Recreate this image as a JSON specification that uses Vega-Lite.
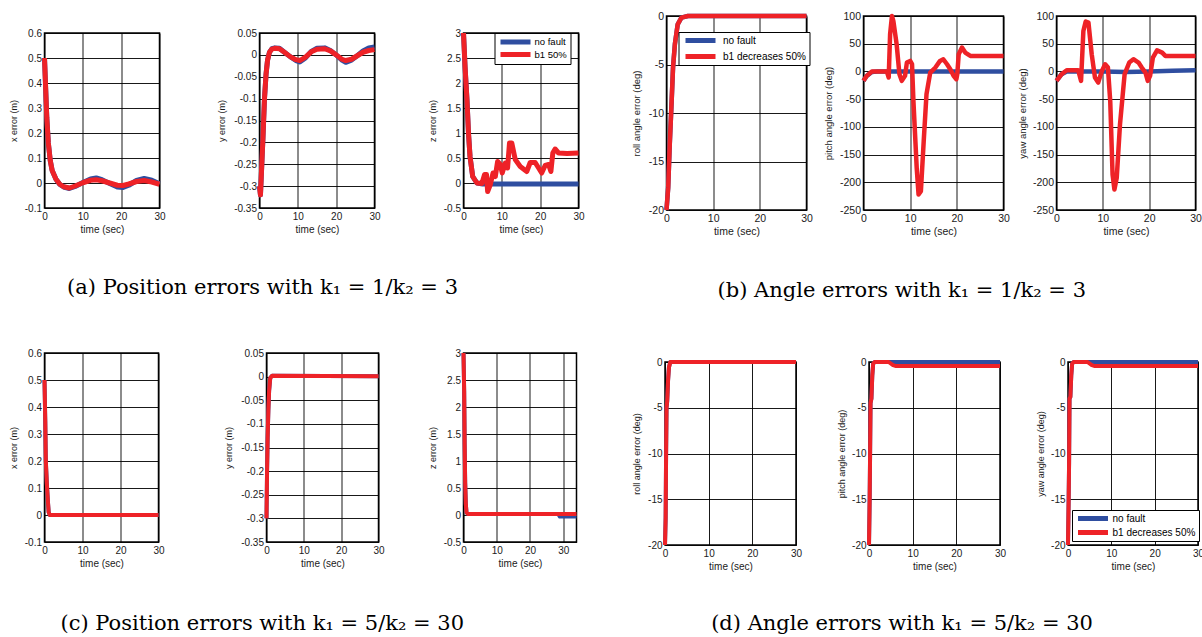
{
"$schema": "https://vega.github.io/schema/vega-lite/v6.json",
"background": "white",
"padding": {"left": 7.5, "top": 10, "right": 0, "bottom": 0},
"datasets": {"d": [
{"p":"ax","s":"no fault","t":0,"v":0.5},{"p":"ax","s":"no fault","t":0.3,"v":0.38},{"p":"ax","s":"no fault","t":0.6,"v":0.26},{"p":"ax","s":"no fault","t":1,"v":0.16},{"p":"ax","s":"no fault","t":1.5,"v":0.09},{"p":"ax","s":"no fault","t":2,"v":0.05},{"p":"ax","s":"no fault","t":3,"v":0.015},{"p":"ax","s":"no fault","t":4,"v":-0.006},{"p":"ax","s":"no fault","t":5,"v":-0.016},{"p":"ax","s":"no fault","t":6.5,"v":-0.022},{"p":"ax","s":"no fault","t":8,"v":-0.014},{"p":"ax","s":"no fault","t":10,"v":0.002},{"p":"ax","s":"no fault","t":12,"v":0.016},{"p":"ax","s":"no fault","t":13.5,"v":0.02},{"p":"ax","s":"no fault","t":15,"v":0.013},{"p":"ax","s":"no fault","t":17,"v":-0.002},{"p":"ax","s":"no fault","t":19,"v":-0.016},{"p":"ax","s":"no fault","t":20.5,"v":-0.018},{"p":"ax","s":"no fault","t":22,"v":-0.009},{"p":"ax","s":"no fault","t":24,"v":0.01},{"p":"ax","s":"no fault","t":26,"v":0.018},{"p":"ax","s":"no fault","t":28,"v":0.011},{"p":"ax","s":"no fault","t":30,"v":-0.003},
{"p":"ax","s":"b1 50%","t":0,"v":0.5},{"p":"ax","s":"b1 50%","t":0.3,"v":0.38},{"p":"ax","s":"b1 50%","t":0.6,"v":0.26},{"p":"ax","s":"b1 50%","t":1,"v":0.16},{"p":"ax","s":"b1 50%","t":1.5,"v":0.09},{"p":"ax","s":"b1 50%","t":2,"v":0.05},{"p":"ax","s":"b1 50%","t":3,"v":0.015},{"p":"ax","s":"b1 50%","t":4,"v":-0.005},{"p":"ax","s":"b1 50%","t":5,"v":-0.015},{"p":"ax","s":"b1 50%","t":6.5,"v":-0.02},{"p":"ax","s":"b1 50%","t":8,"v":-0.012},{"p":"ax","s":"b1 50%","t":10,"v":0.001},{"p":"ax","s":"b1 50%","t":12,"v":0.011},{"p":"ax","s":"b1 50%","t":13.5,"v":0.013},{"p":"ax","s":"b1 50%","t":15,"v":0.009},{"p":"ax","s":"b1 50%","t":17,"v":0},{"p":"ax","s":"b1 50%","t":19,"v":-0.009},{"p":"ax","s":"b1 50%","t":20.5,"v":-0.01},{"p":"ax","s":"b1 50%","t":22,"v":-0.004},{"p":"ax","s":"b1 50%","t":24,"v":0.006},{"p":"ax","s":"b1 50%","t":26,"v":0.01},{"p":"ax","s":"b1 50%","t":28,"v":0.004},{"p":"ax","s":"b1 50%","t":30,"v":-0.005},
{"p":"ay","s":"no fault","t":0,"v":-0.3},{"p":"ay","s":"no fault","t":0.25,"v":-0.32},{"p":"ay","s":"no fault","t":0.6,"v":-0.25},{"p":"ay","s":"no fault","t":0.9,"v":-0.19},{"p":"ay","s":"no fault","t":1.3,"v":-0.1},{"p":"ay","s":"no fault","t":1.7,"v":-0.045},{"p":"ay","s":"no fault","t":2.1,"v":-0.012},{"p":"ay","s":"no fault","t":2.6,"v":0.006},{"p":"ay","s":"no fault","t":3.2,"v":0.014},{"p":"ay","s":"no fault","t":4,"v":0.016},{"p":"ay","s":"no fault","t":5.2,"v":0.015},{"p":"ay","s":"no fault","t":6.5,"v":0.006},{"p":"ay","s":"no fault","t":8,"v":-0.004},{"p":"ay","s":"no fault","t":9.5,"v":-0.013},{"p":"ay","s":"no fault","t":10.5,"v":-0.016},{"p":"ay","s":"no fault","t":12,"v":-0.007},{"p":"ay","s":"no fault","t":13.5,"v":0.008},{"p":"ay","s":"no fault","t":15,"v":0.015},{"p":"ay","s":"no fault","t":17,"v":0.016},{"p":"ay","s":"no fault","t":18.5,"v":0.01},{"p":"ay","s":"no fault","t":20,"v":0},{"p":"ay","s":"no fault","t":21.5,"v":-0.012},{"p":"ay","s":"no fault","t":22.5,"v":-0.017},{"p":"ay","s":"no fault","t":24,"v":-0.012},{"p":"ay","s":"no fault","t":25.5,"v":-0.002},{"p":"ay","s":"no fault","t":27,"v":0.009},{"p":"ay","s":"no fault","t":28.5,"v":0.016},{"p":"ay","s":"no fault","t":30,"v":0.018},
{"p":"ay","s":"b1 50%","t":0,"v":-0.3},{"p":"ay","s":"b1 50%","t":0.25,"v":-0.32},{"p":"ay","s":"b1 50%","t":0.6,"v":-0.25},{"p":"ay","s":"b1 50%","t":0.9,"v":-0.19},{"p":"ay","s":"b1 50%","t":1.3,"v":-0.1},{"p":"ay","s":"b1 50%","t":1.7,"v":-0.045},{"p":"ay","s":"b1 50%","t":2.1,"v":-0.012},{"p":"ay","s":"b1 50%","t":2.6,"v":0.006},{"p":"ay","s":"b1 50%","t":3.2,"v":0.013},{"p":"ay","s":"b1 50%","t":4,"v":0.015},{"p":"ay","s":"b1 50%","t":5.2,"v":0.014},{"p":"ay","s":"b1 50%","t":6.5,"v":0.006},{"p":"ay","s":"b1 50%","t":8,"v":-0.004},{"p":"ay","s":"b1 50%","t":9.5,"v":-0.011},{"p":"ay","s":"b1 50%","t":10.5,"v":-0.013},{"p":"ay","s":"b1 50%","t":12,"v":-0.005},{"p":"ay","s":"b1 50%","t":13.5,"v":0.007},{"p":"ay","s":"b1 50%","t":15,"v":0.013},{"p":"ay","s":"b1 50%","t":17,"v":0.014},{"p":"ay","s":"b1 50%","t":18.5,"v":0.009},{"p":"ay","s":"b1 50%","t":20,"v":0},{"p":"ay","s":"b1 50%","t":21.5,"v":-0.01},{"p":"ay","s":"b1 50%","t":22.5,"v":-0.013},{"p":"ay","s":"b1 50%","t":24,"v":-0.01},{"p":"ay","s":"b1 50%","t":25.5,"v":-0.002},{"p":"ay","s":"b1 50%","t":27,"v":0.006},{"p":"ay","s":"b1 50%","t":28.5,"v":0.01},{"p":"ay","s":"b1 50%","t":30,"v":0.012},
{"p":"az","s":"no fault","t":0,"v":3},{"p":"az","s":"no fault","t":0.4,"v":2.33},{"p":"az","s":"no fault","t":0.9,"v":1.67},{"p":"az","s":"no fault","t":1.3,"v":1},{"p":"az","s":"no fault","t":1.7,"v":0.53},{"p":"az","s":"no fault","t":2.4,"v":0.13},{"p":"az","s":"no fault","t":3.5,"v":0},{"p":"az","s":"no fault","t":5,"v":-0.02},{"p":"az","s":"no fault","t":30,"v":-0.02},
{"p":"az","s":"b1 50%","t":0,"v":3},{"p":"az","s":"b1 50%","t":0.4,"v":2.33},{"p":"az","s":"b1 50%","t":0.9,"v":1.67},{"p":"az","s":"b1 50%","t":1.3,"v":1},{"p":"az","s":"b1 50%","t":1.7,"v":0.53},{"p":"az","s":"b1 50%","t":2.4,"v":0.13},{"p":"az","s":"b1 50%","t":3.5,"v":0},{"p":"az","s":"b1 50%","t":4.8,"v":-0.01},{"p":"az","s":"b1 50%","t":5.5,"v":0.17},{"p":"az","s":"b1 50%","t":6,"v":0.17},{"p":"az","s":"b1 50%","t":6.3,"v":-0.17},{"p":"az","s":"b1 50%","t":7,"v":-0.03},{"p":"az","s":"b1 50%","t":7.7,"v":0.2},{"p":"az","s":"b1 50%","t":8.3,"v":0.13},{"p":"az","s":"b1 50%","t":8.9,"v":0.43},{"p":"az","s":"b1 50%","t":9.6,"v":0.37},{"p":"az","s":"b1 50%","t":10.1,"v":0.2},{"p":"az","s":"b1 50%","t":10.9,"v":0.4},{"p":"az","s":"b1 50%","t":11.5,"v":0.3},{"p":"az","s":"b1 50%","t":12,"v":0.8},{"p":"az","s":"b1 50%","t":12.6,"v":0.8},{"p":"az","s":"b1 50%","t":13.5,"v":0.47},{"p":"az","s":"b1 50%","t":14.8,"v":0.33},{"p":"az","s":"b1 50%","t":16.5,"v":0.23},{"p":"az","s":"b1 50%","t":17.4,"v":0.41},{"p":"az","s":"b1 50%","t":18.7,"v":0.41},{"p":"az","s":"b1 50%","t":19.6,"v":0.3},{"p":"az","s":"b1 50%","t":20.4,"v":0.2},{"p":"az","s":"b1 50%","t":21.3,"v":0.35},{"p":"az","s":"b1 50%","t":22.2,"v":0.37},{"p":"az","s":"b1 50%","t":22.8,"v":0.23},{"p":"az","s":"b1 50%","t":23.3,"v":0.6},{"p":"az","s":"b1 50%","t":23.9,"v":0.68},{"p":"az","s":"b1 50%","t":24.8,"v":0.6},{"p":"az","s":"b1 50%","t":27,"v":0.59},{"p":"az","s":"b1 50%","t":30,"v":0.6},
{"p":"br","s":"no fault","t":0,"v":-20},{"p":"br","s":"no fault","t":0.36,"v":-17.7},{"p":"br","s":"no fault","t":0.7,"v":-13.2},{"p":"br","s":"no fault","t":1.1,"v":-8.8},{"p":"br","s":"no fault","t":1.4,"v":-5.3},{"p":"br","s":"no fault","t":1.8,"v":-2.9},{"p":"br","s":"no fault","t":2.4,"v":-0.86},{"p":"br","s":"no fault","t":3.2,"v":-0.17},{"p":"br","s":"no fault","t":4.6,"v":0},{"p":"br","s":"no fault","t":30,"v":0},
{"p":"br","s":"b1 decreases 50%","t":0,"v":-20},{"p":"br","s":"b1 decreases 50%","t":0.36,"v":-17.7},{"p":"br","s":"b1 decreases 50%","t":0.7,"v":-13.2},{"p":"br","s":"b1 decreases 50%","t":1.1,"v":-8.8},{"p":"br","s":"b1 decreases 50%","t":1.4,"v":-5.3},{"p":"br","s":"b1 decreases 50%","t":1.8,"v":-2.9},{"p":"br","s":"b1 decreases 50%","t":2.4,"v":-0.86},{"p":"br","s":"b1 decreases 50%","t":3.2,"v":-0.17},{"p":"br","s":"b1 decreases 50%","t":4.6,"v":0},{"p":"br","s":"b1 decreases 50%","t":30,"v":0},
{"p":"bp","s":"no fault","t":0,"v":-17},{"p":"bp","s":"no fault","t":0.7,"v":-8},{"p":"bp","s":"no fault","t":1.8,"v":-1},{"p":"bp","s":"no fault","t":3,"v":0},{"p":"bp","s":"no fault","t":30,"v":0},
{"p":"bp","s":"b1 decreases 50%","t":0,"v":-17},{"p":"bp","s":"b1 decreases 50%","t":0.7,"v":-8},{"p":"bp","s":"b1 decreases 50%","t":1.8,"v":0},{"p":"bp","s":"b1 decreases 50%","t":5,"v":0},{"p":"bp","s":"b1 decreases 50%","t":5.4,"v":-11},{"p":"bp","s":"b1 decreases 50%","t":5.7,"v":67},{"p":"bp","s":"b1 decreases 50%","t":6.1,"v":100},{"p":"bp","s":"b1 decreases 50%","t":6.4,"v":91},{"p":"bp","s":"b1 decreases 50%","t":7.1,"v":49},{"p":"bp","s":"b1 decreases 50%","t":7.7,"v":-5},{"p":"bp","s":"b1 decreases 50%","t":8.2,"v":-17},{"p":"bp","s":"b1 decreases 50%","t":8.9,"v":-8},{"p":"bp","s":"b1 decreases 50%","t":9.3,"v":16},{"p":"bp","s":"b1 decreases 50%","t":10,"v":19},{"p":"bp","s":"b1 decreases 50%","t":10.4,"v":13},{"p":"bp","s":"b1 decreases 50%","t":10.7,"v":-54},{"p":"bp","s":"b1 decreases 50%","t":11.4,"v":-174},{"p":"bp","s":"b1 decreases 50%","t":11.8,"v":-222},{"p":"bp","s":"b1 decreases 50%","t":12.3,"v":-216},{"p":"bp","s":"b1 decreases 50%","t":12.9,"v":-126},{"p":"bp","s":"b1 decreases 50%","t":13.5,"v":-41},{"p":"bp","s":"b1 decreases 50%","t":14.3,"v":-2},{"p":"bp","s":"b1 decreases 50%","t":15.4,"v":7},{"p":"bp","s":"b1 decreases 50%","t":16.4,"v":19},{"p":"bp","s":"b1 decreases 50%","t":17.1,"v":22},{"p":"bp","s":"b1 decreases 50%","t":17.9,"v":13},{"p":"bp","s":"b1 decreases 50%","t":18.6,"v":4},{"p":"bp","s":"b1 decreases 50%","t":19.3,"v":-8},{"p":"bp","s":"b1 decreases 50%","t":19.9,"v":-14},{"p":"bp","s":"b1 decreases 50%","t":20.1,"v":-5},{"p":"bp","s":"b1 decreases 50%","t":20.4,"v":31},{"p":"bp","s":"b1 decreases 50%","t":21.1,"v":43},{"p":"bp","s":"b1 decreases 50%","t":21.8,"v":34},{"p":"bp","s":"b1 decreases 50%","t":22.9,"v":28},{"p":"bp","s":"b1 decreases 50%","t":30,"v":28},
{"p":"by","s":"no fault","t":0,"v":-17},{"p":"by","s":"no fault","t":1.1,"v":-5},{"p":"by","s":"no fault","t":2.2,"v":0},{"p":"by","s":"no fault","t":10,"v":0},{"p":"by","s":"no fault","t":15,"v":-1},{"p":"by","s":"no fault","t":20,"v":0},{"p":"by","s":"no fault","t":25,"v":1},{"p":"by","s":"no fault","t":30,"v":2},
{"p":"by","s":"b1 decreases 50%","t":0,"v":-17},{"p":"by","s":"b1 decreases 50%","t":1.1,"v":-5},{"p":"by","s":"b1 decreases 50%","t":2.2,"v":2},{"p":"by","s":"b1 decreases 50%","t":4.7,"v":2},{"p":"by","s":"b1 decreases 50%","t":5.3,"v":-17},{"p":"by","s":"b1 decreases 50%","t":5.8,"v":73},{"p":"by","s":"b1 decreases 50%","t":6.3,"v":90},{"p":"by","s":"b1 decreases 50%","t":6.9,"v":88},{"p":"by","s":"b1 decreases 50%","t":7.6,"v":31},{"p":"by","s":"b1 decreases 50%","t":8.3,"v":-11},{"p":"by","s":"b1 decreases 50%","t":9,"v":-20},{"p":"by","s":"b1 decreases 50%","t":9.8,"v":1},{"p":"by","s":"b1 decreases 50%","t":10.5,"v":13},{"p":"by","s":"b1 decreases 50%","t":11.1,"v":7},{"p":"by","s":"b1 decreases 50%","t":11.6,"v":-54},{"p":"by","s":"b1 decreases 50%","t":12.1,"v":-186},{"p":"by","s":"b1 decreases 50%","t":12.5,"v":-213},{"p":"by","s":"b1 decreases 50%","t":13,"v":-192},{"p":"by","s":"b1 decreases 50%","t":13.7,"v":-96},{"p":"by","s":"b1 decreases 50%","t":14.7,"v":-5},{"p":"by","s":"b1 decreases 50%","t":15.7,"v":16},{"p":"by","s":"b1 decreases 50%","t":16.6,"v":22},{"p":"by","s":"b1 decreases 50%","t":17.7,"v":16},{"p":"by","s":"b1 decreases 50%","t":18.4,"v":7},{"p":"by","s":"b1 decreases 50%","t":19.2,"v":-2},{"p":"by","s":"b1 decreases 50%","t":19.7,"v":-17},{"p":"by","s":"b1 decreases 50%","t":20.2,"v":-8},{"p":"by","s":"b1 decreases 50%","t":20.8,"v":25},{"p":"by","s":"b1 decreases 50%","t":21.7,"v":38},{"p":"by","s":"b1 decreases 50%","t":22.8,"v":34},{"p":"by","s":"b1 decreases 50%","t":23.5,"v":28},{"p":"by","s":"b1 decreases 50%","t":30,"v":28},
{"p":"cx","s":"no fault","t":0,"v":0.5},{"p":"cx","s":"no fault","t":0.2,"v":0.35},{"p":"cx","s":"no fault","t":0.35,"v":0.2},{"p":"cx","s":"no fault","t":0.6,"v":0.12},{"p":"cx","s":"no fault","t":0.9,"v":0.05},{"p":"cx","s":"no fault","t":1.1,"v":0.01},{"p":"cx","s":"no fault","t":1.4,"v":0},{"p":"cx","s":"no fault","t":30,"v":0},
{"p":"cx","s":"b1 50%","t":0,"v":0.5},{"p":"cx","s":"b1 50%","t":0.2,"v":0.35},{"p":"cx","s":"b1 50%","t":0.35,"v":0.2},{"p":"cx","s":"b1 50%","t":0.6,"v":0.12},{"p":"cx","s":"b1 50%","t":0.9,"v":0.05},{"p":"cx","s":"b1 50%","t":1.1,"v":0.01},{"p":"cx","s":"b1 50%","t":1.4,"v":0},{"p":"cx","s":"b1 50%","t":30,"v":0},
{"p":"cy","s":"no fault","t":0,"v":-0.3},{"p":"cy","s":"no fault","t":0.15,"v":-0.2},{"p":"cy","s":"no fault","t":0.3,"v":-0.13},{"p":"cy","s":"no fault","t":0.5,"v":-0.07},{"p":"cy","s":"no fault","t":0.7,"v":-0.03},{"p":"cy","s":"no fault","t":1,"v":-0.003},{"p":"cy","s":"no fault","t":1.5,"v":0.002},{"p":"cy","s":"no fault","t":30,"v":0.001},
{"p":"cy","s":"b1 50%","t":0,"v":-0.3},{"p":"cy","s":"b1 50%","t":0.15,"v":-0.2},{"p":"cy","s":"b1 50%","t":0.3,"v":-0.13},{"p":"cy","s":"b1 50%","t":0.5,"v":-0.07},{"p":"cy","s":"b1 50%","t":0.7,"v":-0.03},{"p":"cy","s":"b1 50%","t":1,"v":-0.003},{"p":"cy","s":"b1 50%","t":1.5,"v":0.002},{"p":"cy","s":"b1 50%","t":30,"v":0.001},
{"p":"cz","s":"no fault","t":0,"v":3},{"p":"cz","s":"no fault","t":0.2,"v":2.3},{"p":"cz","s":"no fault","t":0.35,"v":1.3},{"p":"cz","s":"no fault","t":0.5,"v":0.6},{"p":"cz","s":"no fault","t":0.7,"v":0.2},{"p":"cz","s":"no fault","t":0.9,"v":0.05},{"p":"cz","s":"no fault","t":1.3,"v":0.02},{"p":"cz","s":"no fault","t":28.5,"v":0.02},{"p":"cz","s":"no fault","t":29,"v":-0.03},{"p":"cz","s":"no fault","t":34,"v":-0.03},
{"p":"cz","s":"b1 50%","t":0,"v":3},{"p":"cz","s":"b1 50%","t":0.2,"v":2.3},{"p":"cz","s":"b1 50%","t":0.35,"v":1.3},{"p":"cz","s":"b1 50%","t":0.5,"v":0.6},{"p":"cz","s":"b1 50%","t":0.7,"v":0.2},{"p":"cz","s":"b1 50%","t":0.9,"v":0.05},{"p":"cz","s":"b1 50%","t":1.3,"v":0.02},{"p":"cz","s":"b1 50%","t":34,"v":0.02},
{"p":"dr","s":"no fault","t":0,"v":-20},{"p":"dr","s":"no fault","t":0.15,"v":-17},{"p":"dr","s":"no fault","t":0.25,"v":-10},{"p":"dr","s":"no fault","t":0.35,"v":-5},{"p":"dr","s":"no fault","t":0.5,"v":-4.3},{"p":"dr","s":"no fault","t":0.7,"v":-2},{"p":"dr","s":"no fault","t":0.9,"v":-0.6},{"p":"dr","s":"no fault","t":1.2,"v":0},{"p":"dr","s":"no fault","t":30,"v":0},
{"p":"dr","s":"b1 decreases 50%","t":0,"v":-20},{"p":"dr","s":"b1 decreases 50%","t":0.15,"v":-17},{"p":"dr","s":"b1 decreases 50%","t":0.25,"v":-10},{"p":"dr","s":"b1 decreases 50%","t":0.35,"v":-5},{"p":"dr","s":"b1 decreases 50%","t":0.5,"v":-4.3},{"p":"dr","s":"b1 decreases 50%","t":0.7,"v":-2},{"p":"dr","s":"b1 decreases 50%","t":0.9,"v":-0.6},{"p":"dr","s":"b1 decreases 50%","t":1.2,"v":0},{"p":"dr","s":"b1 decreases 50%","t":30,"v":0},
{"p":"dp","s":"no fault","t":0,"v":-20},{"p":"dp","s":"no fault","t":0.15,"v":-15},{"p":"dp","s":"no fault","t":0.25,"v":-10},{"p":"dp","s":"no fault","t":0.35,"v":-4.5},{"p":"dp","s":"no fault","t":0.55,"v":-4},{"p":"dp","s":"no fault","t":0.75,"v":-1.5},{"p":"dp","s":"no fault","t":0.95,"v":-0.2},{"p":"dp","s":"no fault","t":1.3,"v":0},{"p":"dp","s":"no fault","t":30,"v":0},
{"p":"dp","s":"b1 decreases 50%","t":0,"v":-20},{"p":"dp","s":"b1 decreases 50%","t":0.15,"v":-15},{"p":"dp","s":"b1 decreases 50%","t":0.25,"v":-10},{"p":"dp","s":"b1 decreases 50%","t":0.35,"v":-4.5},{"p":"dp","s":"b1 decreases 50%","t":0.55,"v":-4},{"p":"dp","s":"b1 decreases 50%","t":0.75,"v":-1.5},{"p":"dp","s":"b1 decreases 50%","t":0.95,"v":-0.2},{"p":"dp","s":"b1 decreases 50%","t":1.3,"v":0},{"p":"dp","s":"b1 decreases 50%","t":4.5,"v":0},{"p":"dp","s":"b1 decreases 50%","t":5.5,"v":-0.35},{"p":"dp","s":"b1 decreases 50%","t":6.2,"v":-0.45},{"p":"dp","s":"b1 decreases 50%","t":30,"v":-0.45},
{"p":"dy","s":"no fault","t":0,"v":-20},{"p":"dy","s":"no fault","t":0.15,"v":-15},{"p":"dy","s":"no fault","t":0.25,"v":-11},{"p":"dy","s":"no fault","t":0.35,"v":-4},{"p":"dy","s":"no fault","t":0.55,"v":-3.8},{"p":"dy","s":"no fault","t":0.75,"v":-1.5},{"p":"dy","s":"no fault","t":0.95,"v":-0.2},{"p":"dy","s":"no fault","t":1.3,"v":0},{"p":"dy","s":"no fault","t":30,"v":0},
{"p":"dy","s":"b1 decreases 50%","t":0,"v":-20},{"p":"dy","s":"b1 decreases 50%","t":0.15,"v":-15},{"p":"dy","s":"b1 decreases 50%","t":0.25,"v":-11},{"p":"dy","s":"b1 decreases 50%","t":0.35,"v":-4},{"p":"dy","s":"b1 decreases 50%","t":0.55,"v":-3.8},{"p":"dy","s":"b1 decreases 50%","t":0.75,"v":-1.5},{"p":"dy","s":"b1 decreases 50%","t":0.95,"v":-0.2},{"p":"dy","s":"b1 decreases 50%","t":1.3,"v":0},{"p":"dy","s":"b1 decreases 50%","t":4.5,"v":0},{"p":"dy","s":"b1 decreases 50%","t":5.5,"v":-0.35},{"p":"dy","s":"b1 decreases 50%","t":6.2,"v":-0.45},{"p":"dy","s":"b1 decreases 50%","t":30,"v":-0.45}
]},
"spacing": 46,
"resolve": {"scale": {"color": "independent"}},
"vconcat": [
{"spacing": 45, "resolve": {"scale": {"color": "independent"}}, "hconcat": [
 {"spacing": 10, "resolve": {"scale": {"color": "independent"}}, "vconcat": [
  {"width": 1, "height": 1, "view": {"stroke": null}, "data": {"values": []}, "mark": "point"},
  {"title": {"text": "(a)  Position errors with k₁ = 1/k₂ = 3", "orient": "bottom", "anchor": "middle", "font": "DejaVu Serif", "fontSize": 21, "offset": 42, "dx": -34},
   "spacing": 49, "resolve": {"scale": {"color": "independent"}}, "hconcat": [
   {"width": 115, "height": 175,
    "data": {"name": "d"}, "transform": [{"filter": "datum.p === 'ax'"}],
    "mark": {"type": "line", "strokeWidth": 5, "clip": false, "strokeJoin": "round"},
    "encoding": {
     "x": {"field": "t", "type": "quantitative", "scale": {"domain": [0, 30], "nice": false, "zero": false}, "axis": {"title": "time (sec)", "values": [0, 10, 20, 30]}},
     "y": {"field": "v", "type": "quantitative", "scale": {"domain": [-0.1, 0.6], "nice": false, "zero": false}, "axis": {"title": "x error (m)", "values": [-0.1, 0, 0.1, 0.2, 0.3, 0.4, 0.5, 0.6], "minExtent": 24.5, "maxExtent": 24.5}},
     "color": {"field": "s", "type": "nominal", "scale": {"domain": ["no fault", "b1 50%"], "range": ["#2f4ea0", "#ee2227"]}, "legend": null}}},
   {"spacing": 45, "resolve": {"scale": {"color": "independent"}}, "hconcat": [
    {"width": 115, "height": 175,
     "data": {"name": "d"}, "transform": [{"filter": "datum.p === 'ay'"}],
     "mark": {"type": "line", "strokeWidth": 5, "clip": false, "strokeJoin": "round"},
     "encoding": {
      "x": {"field": "t", "type": "quantitative", "scale": {"domain": [0, 30], "nice": false, "zero": false}, "axis": {"title": "time (sec)", "values": [0, 10, 20, 30]}},
      "y": {"field": "v", "type": "quantitative", "scale": {"domain": [-0.35, 0.05], "nice": false, "zero": false}, "axis": {"title": "y error (m)", "values": [-0.35, -0.3, -0.25, -0.2, -0.15, -0.1, -0.05, 0, 0.05], "minExtent": 31.5, "maxExtent": 31.5}},
      "color": {"field": "s", "type": "nominal", "scale": {"domain": ["no fault", "b1 50%"], "range": ["#2f4ea0", "#ee2227"]}, "legend": null}}},
    {"width": 115, "height": 175,
     "data": {"name": "d"}, "transform": [{"filter": "datum.p === 'az'"}],
     "mark": {"type": "line", "strokeWidth": 5, "clip": false, "strokeJoin": "round"},
     "encoding": {
      "x": {"field": "t", "type": "quantitative", "scale": {"domain": [0, 30], "nice": false, "zero": false}, "axis": {"title": "time (sec)", "values": [0, 10, 20, 30]}},
      "y": {"field": "v", "type": "quantitative", "scale": {"domain": [-0.5, 3], "nice": false, "zero": false}, "axis": {"title": "z error (m)", "values": [-0.5, 0, 0.5, 1, 1.5, 2, 2.5, 3], "minExtent": 24.5, "maxExtent": 24.5}},
      "color": {"field": "s", "type": "nominal", "scale": {"domain": ["no fault", "b1 50%"], "range": ["#2f4ea0", "#ee2227"]},
       "legend": {"title": null, "orient": "none", "legendX": 31, "legendY": 0, "symbolType": "M-1,0H9", "symbolSize": 36, "symbolStrokeWidth": 5, "symbolOffset": 0, "labelOffset": 25.5, "rowPadding": 1.5, "padding": 3.5, "clipHeight": 11, "labelFontSize": 9.5}}}}
   ]}
  ]}
 ]},
 {"title": {"text": "(b)  Angle errors with k₁ = 1/k₂ = 3", "orient": "bottom", "anchor": "middle", "font": "DejaVu Serif", "fontSize": 21, "offset": 42, "dx": -14.5},
  "spacing": 9, "resolve": {"scale": {"color": "independent"}}, "hconcat": [
  {"width": 140, "height": 194,
   "data": {"name": "d"}, "transform": [{"filter": "datum.p === 'br'"}],
   "mark": {"type": "line", "strokeWidth": 4.5, "clip": false, "strokeJoin": "round"},
   "encoding": {
    "x": {"field": "t", "type": "quantitative", "scale": {"domain": [0, 30], "nice": false, "zero": false}, "axis": {"title": "time (sec)", "values": [0, 10, 20, 30], "labelFontSize": 10.5, "titleFontSize": 10.5}},
    "y": {"field": "v", "type": "quantitative", "scale": {"domain": [-20, 0], "nice": false, "zero": false}, "axis": {"title": "roll angle error (deg)", "values": [-20, -15, -10, -5, 0], "minExtent": 23.25, "maxExtent": 23.25, "labelFontSize": 10.5, "titleFontSize": 9.5}},
    "color": {"field": "s", "type": "nominal", "scale": {"domain": ["no fault", "b1 decreases 50%"], "range": ["#2f4ea0", "#ee2227"]},
     "legend": {"title": null, "orient": "none", "legendX": 12, "legendY": 16, "symbolType": "M-1,0H9", "symbolSize": 36, "symbolStrokeWidth": 5, "symbolOffset": 1.5, "labelOffset": 29, "rowPadding": 5, "padding": 3, "clipHeight": 11, "labelFontSize": 10}}}},
  {"spacing": 6, "resolve": {"scale": {"color": "independent"}}, "hconcat": [
   {"width": 140, "height": 194,
    "data": {"name": "d"}, "transform": [{"filter": "datum.p === 'bp'"}],
    "mark": {"type": "line", "strokeWidth": 4.5, "clip": false, "strokeJoin": "round"},
    "encoding": {
     "x": {"field": "t", "type": "quantitative", "scale": {"domain": [0, 30], "nice": false, "zero": false}, "axis": {"title": "time (sec)", "values": [0, 10, 20, 30], "labelFontSize": 10.5, "titleFontSize": 10.5}},
     "y": {"field": "v", "type": "quantitative", "scale": {"domain": [-250, 100], "nice": false, "zero": false}, "axis": {"title": "pitch angle error (deg)", "values": [-250, -200, -150, -100, -50, 0, 50, 100], "minExtent": 28.25, "maxExtent": 28.25, "labelFontSize": 10.5, "titleFontSize": 9.5}},
     "color": {"field": "s", "type": "nominal", "scale": {"domain": ["no fault", "b1 decreases 50%"], "range": ["#2f4ea0", "#ee2227"]}, "legend": null}}},
   {"width": 139, "height": 194,
    "data": {"name": "d"}, "transform": [{"filter": "datum.p === 'by'"}],
    "mark": {"type": "line", "strokeWidth": 4.5, "clip": false, "strokeJoin": "round"},
    "encoding": {
     "x": {"field": "t", "type": "quantitative", "scale": {"domain": [0, 30], "nice": false, "zero": false}, "axis": {"title": "time (sec)", "values": [0, 10, 20, 30], "labelFontSize": 10.5, "titleFontSize": 10.5}},
     "y": {"field": "v", "type": "quantitative", "scale": {"domain": [-250, 100], "nice": false, "zero": false}, "axis": {"title": "yaw angle error (deg)", "values": [-250, -200, -150, -100, -50, 0, 50, 100], "minExtent": 27.25, "maxExtent": 27.25, "labelFontSize": 10.5, "titleFontSize": 9.5}},
     "color": {"field": "s", "type": "nominal", "scale": {"domain": ["no fault", "b1 decreases 50%"], "range": ["#2f4ea0", "#ee2227"]}, "legend": null}}}
  ]}
 ]}
]},
{"spacing": 51.5, "resolve": {"scale": {"color": "independent"}}, "hconcat": [
 {"title": {"text": "(c)  Position errors with k₁ = 5/k₂ = 30", "orient": "bottom", "anchor": "middle", "font": "DejaVu Serif", "fontSize": 21, "offset": 44, "dx": -31.5},
  "spacing": 57, "resolve": {"scale": {"color": "independent"}}, "hconcat": [
  {"width": 114, "height": 189,
   "data": {"name": "d"}, "transform": [{"filter": "datum.p === 'cx'"}],
   "mark": {"type": "line", "strokeWidth": 4, "clip": false, "strokeJoin": "round"},
   "encoding": {
    "x": {"field": "t", "type": "quantitative", "scale": {"domain": [0, 30], "nice": false, "zero": false}, "axis": {"title": "time (sec)", "values": [0, 10, 20, 30]}},
    "y": {"field": "v", "type": "quantitative", "scale": {"domain": [-0.1, 0.6], "nice": false, "zero": false}, "axis": {"title": "x error (m)", "values": [-0.1, 0, 0.1, 0.2, 0.3, 0.4, 0.5, 0.6], "minExtent": 24.5, "maxExtent": 24.5}},
    "color": {"field": "s", "type": "nominal", "scale": {"domain": ["no fault", "b1 50%"], "range": ["#2f4ea0", "#ee2227"]}, "legend": null}}},
  {"spacing": 41, "resolve": {"scale": {"color": "independent"}}, "hconcat": [
   {"width": 112, "height": 189,
    "data": {"name": "d"}, "transform": [{"filter": "datum.p === 'cy'"}],
    "mark": {"type": "line", "strokeWidth": 4, "clip": false, "strokeJoin": "round"},
    "encoding": {
     "x": {"field": "t", "type": "quantitative", "scale": {"domain": [0, 30], "nice": false, "zero": false}, "axis": {"title": "time (sec)", "values": [0, 10, 20, 30]}},
     "y": {"field": "v", "type": "quantitative", "scale": {"domain": [-0.35, 0.05], "nice": false, "zero": false}, "axis": {"title": "y error (m)", "values": [-0.35, -0.3, -0.25, -0.2, -0.15, -0.1, -0.05, 0, 0.05], "minExtent": 31.5, "maxExtent": 31.5}},
     "color": {"field": "s", "type": "nominal", "scale": {"domain": ["no fault", "b1 50%"], "range": ["#2f4ea0", "#ee2227"]}, "legend": null}}},
   {"width": 113, "height": 189,
    "data": {"name": "d"}, "transform": [{"filter": "datum.p === 'cz'"}],
    "mark": {"type": "line", "strokeWidth": 4, "clip": false, "strokeJoin": "round"},
    "encoding": {
     "x": {"field": "t", "type": "quantitative", "scale": {"domain": [0, 34], "nice": false, "zero": false}, "axis": {"title": "time (sec)", "values": [0, 10, 20, 30]}},
     "y": {"field": "v", "type": "quantitative", "scale": {"domain": [-0.5, 3], "nice": false, "zero": false}, "axis": {"title": "z error (m)", "values": [-0.5, 0, 0.5, 1, 1.5, 2, 2.5, 3], "minExtent": 24.5, "maxExtent": 24.5}},
     "color": {"field": "s", "type": "nominal", "scale": {"domain": ["no fault", "b1 50%"], "range": ["#2f4ea0", "#ee2227"]}, "legend": null}}}
  ]}
 ]},
 {"spacing": 2, "resolve": {"scale": {"color": "independent"}}, "vconcat": [
  {"width": 1, "height": 1, "view": {"stroke": null}, "data": {"values": []}, "mark": "point"},
  {"title": {"text": "(d)  Angle errors with k₁ = 5/k₂ = 30", "orient": "bottom", "anchor": "middle", "font": "DejaVu Serif", "fontSize": 21, "offset": 41, "dx": -16},
   "spacing": 33, "resolve": {"scale": {"color": "independent"}}, "hconcat": [
   {"width": 131, "height": 183,
    "data": {"name": "d"}, "transform": [{"filter": "datum.p === 'dr'"}],
    "mark": {"type": "line", "strokeWidth": 4, "clip": false, "strokeJoin": "round"},
    "encoding": {
     "x": {"field": "t", "type": "quantitative", "scale": {"domain": [0, 30], "nice": false, "zero": false}, "axis": {"title": "time (sec)", "values": [0, 10, 20, 30]}},
     "y": {"field": "v", "type": "quantitative", "scale": {"domain": [-20, 0], "nice": false, "zero": false}, "axis": {"title": "roll angle error (deg)", "values": [-20, -15, -10, -5, 0], "minExtent": 21.5, "maxExtent": 21.5}},
     "color": {"field": "s", "type": "nominal", "scale": {"domain": ["no fault", "b1 decreases 50%"], "range": ["#2f4ea0", "#ee2227"]}, "legend": null}}},
   {"spacing": 28, "resolve": {"scale": {"color": "independent"}}, "hconcat": [
    {"width": 131, "height": 183,
     "data": {"name": "d"}, "transform": [{"filter": "datum.p === 'dp'"}],
     "mark": {"type": "line", "strokeWidth": 4, "clip": false, "strokeJoin": "round"},
     "encoding": {
      "x": {"field": "t", "type": "quantitative", "scale": {"domain": [0, 30], "nice": false, "zero": false}, "axis": {"title": "time (sec)", "values": [0, 10, 20, 30]}},
      "y": {"field": "v", "type": "quantitative", "scale": {"domain": [-20, 0], "nice": false, "zero": false}, "axis": {"title": "pitch angle error (deg)", "values": [-20, -15, -10, -5, 0], "minExtent": 20.5, "maxExtent": 20.5}},
      "color": {"field": "s", "type": "nominal", "scale": {"domain": ["no fault", "b1 decreases 50%"], "range": ["#2f4ea0", "#ee2227"]}, "legend": null}}},
    {"width": 130, "height": 183,
     "data": {"name": "d"}, "transform": [{"filter": "datum.p === 'dy'"}],
     "mark": {"type": "line", "strokeWidth": 4, "clip": false, "strokeJoin": "round"},
     "encoding": {
      "x": {"field": "t", "type": "quantitative", "scale": {"domain": [0, 30], "nice": false, "zero": false}, "axis": {"title": "time (sec)", "values": [0, 10, 20, 30]}},
      "y": {"field": "v", "type": "quantitative", "scale": {"domain": [-20, 0], "nice": false, "zero": false}, "axis": {"title": "yaw angle error (deg)", "values": [-20, -15, -10, -5, 0], "minExtent": 20.5, "maxExtent": 20.5}},
      "color": {"field": "s", "type": "nominal", "scale": {"domain": ["no fault", "b1 decreases 50%"], "range": ["#2f4ea0", "#ee2227"]},
       "legend": {"title": null, "orient": "none", "legendX": 4, "legendY": 148, "symbolType": "M-1,0H9", "symbolSize": 36, "symbolStrokeWidth": 5, "symbolOffset": 0.5, "labelOffset": 26, "rowPadding": 3, "padding": 3, "clipHeight": 11, "labelFontSize": 10}}}}
   ]}
  ]}
 ]}
]}
],
"config": {
 "font": "Liberation Sans",
 "view": {"stroke": "#000", "strokeWidth": 1.5},
 "axis": {"labelFont": "Liberation Sans", "labelFontSize": 10, "labelColor": "#1a1a1a", "titleFont": "Liberation Sans", "titleFontWeight": "normal", "titleColor": "#1a1a1a", "domain": false, "ticks": false, "labelPadding": 3, "gridColor": "#000", "gridOpacity": 0.9, "gridWidth": 1, "labelFlush": false, "labelOverlap": false, "labelBound": false, "labelExpr": "'' + datum.value"},
 "axisX": {"titleFontSize": 10, "titlePadding": 3},
 "axisY": {"titleFontSize": 9, "titlePadding": 2},
 "legend": {"strokeColor": "#000", "fillColor": "#fff", "labelFont": "Liberation Sans", "labelColor": "#000"},
 "title": {"fontWeight": "normal", "color": "#000"}
}
}
